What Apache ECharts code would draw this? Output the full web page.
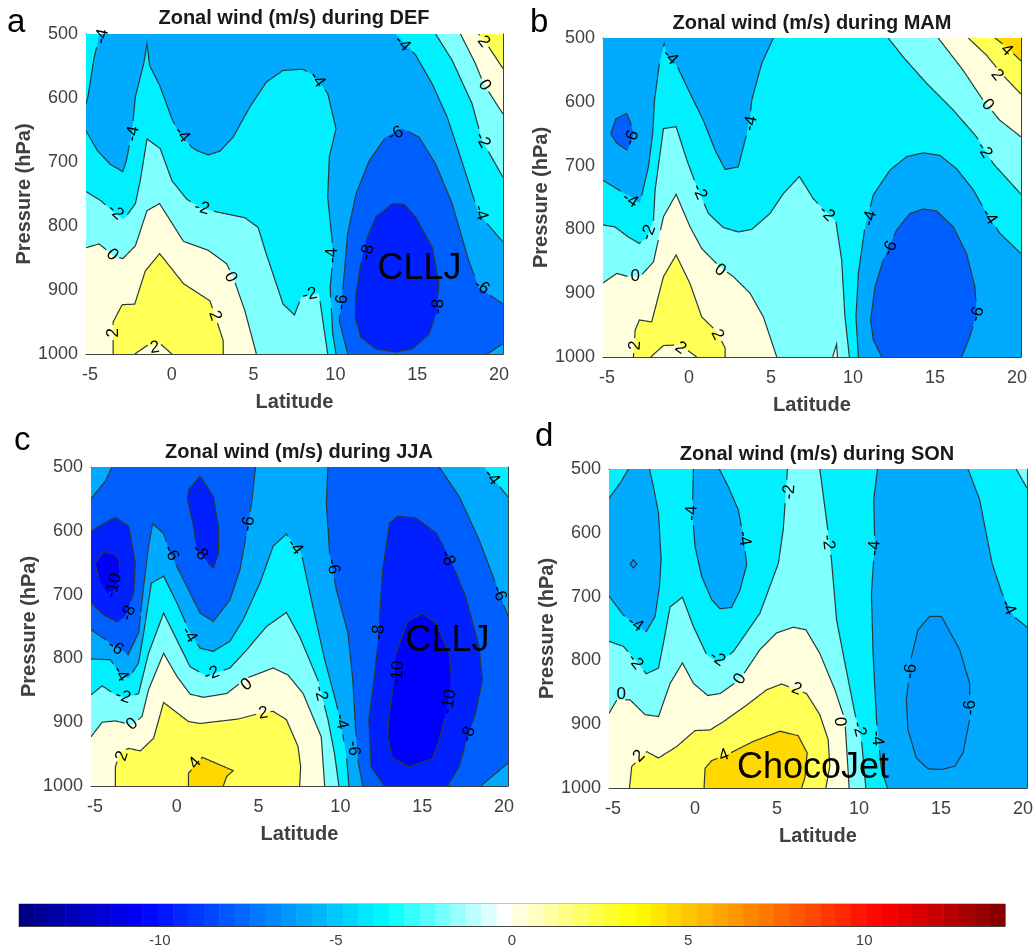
<!DOCTYPE html>
<html>
<head>
<meta charset="utf-8">
<style>
html, body { margin: 0; padding: 0; background: #fff; }
#main { width: 1036px; height: 951px; }
</style>
</head>
<body>
<div id="main"></div>
<script src="https://cdn.jsdelivr.net/npm/echarts@6/dist/echarts.min.js"></script>
<script>
var latTicks = [-5, 0, 5, 10, 15, 20];
var pressureTicks = [500, 600, 700, 800, 900, 1000];
var colorbarTicks = [-10, -5, 0, 5, 10];
var colorbarStops = [[-14, '#00007f'], [-10.5, '#0000ff'], [-3.5, '#00ffff'], [-0.2, '#ffffff'], [0.2, '#ffffe0'], [3.5, '#ffff00'], [10.5, '#ff0000'], [14, '#7f0000']];
var frameCorners = [[-5.25, 500], [20.25, 500], [20.25, 1000], [-5.25, 1000]];

// contour regions, painted in order: [lower value of the band, [[latitude, pressure], ...]]
var defContours = [
    [-4, frameCorners],
    [-6, [[-4.42,500],[-4.77,539],[-5.13,598],[-5.25,609],[-5.25,651],[-4.56,682],[-3.75,704],[-3,715],[-2.78,698],[-2.58,671],[-2.43,651],[-2.23,598],[-1.72,546],[-1.52,515],[-1.36,549],[-0.75,580],[0,632],[0.3,648],[1.22,677],[1.62,683],[2.23,689],[2.94,683],[3.75,661],[4.77,614],[5.78,575],[6.8,557],[8,555],[8.72,565],[9.53,593],[10.04,648],[9.63,692],[9.53,755],[9.8,823],[9.8,864],[9.68,896],[9.84,969],[10.04,1000],[20.25,1000],[20.25,825],[18.76,781],[17.85,708],[16.84,630],[15.92,578],[14.91,533],[13.69,500]]],
    [-8, [[10.75,1000],[10.24,948],[10.45,901],[10.75,812],[11.26,750],[12.07,698],[13.08,661],[14.1,648],[15.11,661],[16.13,703],[17.14,765],[18.15,854],[18.76,896],[20.25,922],[20.25,984],[19.27,1000]]],
    [-10, [[13.49,765],[12.47,786],[11.87,823],[11.56,859],[11.26,906],[11.22,943],[11.56,974],[12.47,992],[13.69,997],[14.71,992],[15.72,969],[16.23,932],[16.33,890],[15.92,833],[14.91,786],[14.2,766]]],
    [-2, [[-5.25,746],[-4.36,760],[-3.45,781],[-2.94,790],[-2.23,765],[-1.93,729],[-1.52,664],[-0.71,679],[0,729],[0.91,758],[1.72,771],[2.74,778],[4.46,787],[5.27,802],[5.78,844],[6.8,922],[7.5,939],[7.91,911],[8.99,905],[9.53,1000],[-5.25,1000]]],
    [-2, [[16.13,500],[17.14,541],[18.36,609],[18.97,666],[20.25,724],[20.25,500]]],
    [0, [[-5.25,834],[-4.46,828],[-3.96,838],[-3.65,846],[-3,851],[-2.23,831],[-1.52,776],[-0.75,765],[0.71,824],[2.23,838],[3.35,859],[3.75,880],[4.46,932],[5.17,1000],[-5.25,1000]]],
    [0, [[17.65,500],[18.56,546],[19.07,578],[20.25,625],[20.25,500]]],
    [2, [[-3.59,1000],[-3.59,950],[-3.04,923],[-2.27,922],[-1.62,870],[-0.75,843],[0.71,890],[2.33,917],[2.64,940],[3.14,979],[3.14,1000]]],
    [0, [[-2.27,1000],[-1.52,987],[-0.71,984],[0,1000]]],
    [2, [[18.76,500],[19.37,520],[20.25,554],[20.25,500]]]
];
var mamContours = [
    [-4, frameCorners],
    [-6, [[5.14,500],[4.43,540],[3.82,598],[3.72,624],[3.52,650],[3,702],[2.2,706],[1.59,676],[0.87,629],[0.16,592],[-0.75,543],[-1.36,527],[-1.52,509],[-1.81,540],[-2.11,598],[-2.22,650],[-2.48,702],[-3,759],[-3.6,749],[-4.31,738],[-5.25,723],[-5.25,500]]],
    [-6, [[10.33,1000],[10.18,937],[10.33,869],[10.73,796],[11.24,746],[12.26,707],[13.27,686],[14.29,680],[15.3,684],[16.32,705],[17.34,738],[18.15,775],[18.96,806],[20.25,838],[20.25,1000]]],
    [-8, [[11.75,1000],[11.24,973],[11.08,942],[11.34,890],[11.85,848],[12.66,801],[13.48,775],[14.29,768],[15.1,771],[16.12,796],[16.93,838],[17.44,890],[17.54,932],[17.13,968],[16.63,1000]]],
    [-8, [[-3.8,618],[-4.47,627],[-4.78,650],[-4.41,665],[-3.76,676],[-3.39,650],[-3.56,634]]],
    [-2, [[-5.25,793],[-4.53,796],[-3.7,812],[-3.03,822],[-2.58,813],[-2.17,785],[-2.07,738],[-1.56,642],[-0.79,639],[-0.14,691],[0.47,733],[1.18,775],[2.09,797],[3,804],[3.82,800],[4.94,775],[5.75,744],[6.73,717],[7.58,752],[8.96,788],[9.31,848],[9.51,937],[9.78,1000],[-5.25,1000]]],
    [-2, [[12.15,500],[13.07,530],[14.49,571],[16.12,613],[17.54,655],[18.56,697],[20.25,745],[20.25,500]]],
    [0, [[-5.25,884],[-4.41,869],[-3.7,874],[-2.99,874],[-2.17,851],[-1.56,780],[-0.79,745],[0.06,796],[0.77,830],[1.89,859],[2.7,874],[3.72,900],[4.53,937],[5.35,1000],[-5.25,1000]]],
    [0, [[15.2,500],[16.73,551],[17.95,598],[18.96,629],[20.25,655],[20.25,500]]],
    [0, [[8.76,1000],[9,980],[9.05,1000]]],
    [2, [[-3.39,1000],[-3.29,958],[-3.03,942],[-2.28,945],[-1.56,874],[-0.79,840],[0.06,885],[0.77,937],[1.69,960],[2.2,986],[2.2,1000]]],
    [0, [[-2.34,1000],[-1.56,982],[-0.55,981],[0.47,1000]]],
    [2, [[17.03,500],[18.15,527],[19.06,556],[20.25,588],[20.25,500]]],
    [4, [[18.66,500],[19.37,514],[20.25,536],[20.25,500]]]
];
var jjaContours = [
    [-6, frameCorners],
    [-8, [[-3.96,500],[-4.37,522],[-5.25,550],[-5.25,755],[-4.06,776],[-2.98,794],[-2.34,760],[-2.03,687],[-1.73,624],[-1.48,589],[-0.81,604],[-0.41,635],[0.61,687],[1.42,729],[2.23,742],[3.25,708],[3.86,661],[4.26,604],[4.57,556],[4.81,500]]],
    [-8, [[9.24,500],[9.14,556],[9.34,635],[9.75,692],[10.46,760],[10.76,834],[10.92,907],[11.07,959],[11.37,1000],[18.58,1000],[20.25,964],[20.25,734],[19.49,682],[18.48,614],[17.26,546],[16.04,500]]],
    [-10, [[12.69,1000],[11.88,970],[11.74,896],[12.08,828],[12.28,781],[12.59,661],[13,588],[13.5,577],[14.62,580],[15.84,603],[16.65,640],[17.66,703],[18.48,781],[18.68,834],[18.27,886],[17.66,933],[17.26,970],[16.55,1000]]],
    [-10, [[-3.76,579],[-4.77,593],[-5.25,601],[-5.25,713],[-4.47,732],[-3.65,743],[-3.15,734],[-2.64,698],[-2.54,651],[-2.94,593]]],
    [-10, [[1.42,514],[0.71,536],[0.65,551],[1.02,593],[1.22,630],[2.23,659],[2.54,635],[2.54,593],[2.23,546]]],
    [-12, [[-4.47,633],[-5.02,651],[-4.71,677],[-4.26,698],[-3.76,692],[-3.55,671],[-3.49,651],[-3.76,637]]],
    [-12, [[15.03,730],[14.11,742],[13.4,792],[13.3,834],[12.99,886],[12.89,923],[13.2,957],[14.21,970],[15.63,957],[16.04,928],[16.45,886],[16.8,834],[16.65,792],[15.84,745]]],
    [-4, [[-5.25,801],[-4.06,802],[-3.45,826],[-2.94,831],[-2.34,807],[-2.03,760],[-1.56,682],[-0.81,671],[0,713],[0.81,760],[1.42,784],[2.23,789],[3.25,773],[4.06,739],[5.08,682],[5.89,624],[6.7,605],[7.61,635],[8.32,719],[9.04,802],[9.75,870],[10.05,907],[10.36,949],[10.52,1000],[-5.25,1000]]],
    [-4, [[18.78,500],[20.25,547],[20.25,500]]],
    [-2, [[-5.25,857],[-4.57,843],[-3.76,857],[-3.15,862],[-2.34,855],[-1.73,792],[-0.81,729],[-0.1,766],[0.81,813],[1.83,828],[3.25,815],[4.26,787],[5.48,750],[6.7,728],[7.51,766],[8.63,834],[9.24,896],[9.64,949],[9.91,1000],[-5.25,1000]]],
    [0, [[-5.25,923],[-4.57,900],[-3.76,898],[-2.74,904],[-2.13,891],[-1.73,849],[-0.81,792],[0,828],[0.81,856],[1.62,861],[3.05,855],[4.26,831],[5.89,815],[6.8,826],[7.72,855],[8.83,923],[9.04,1000],[-5.25,1000]]],
    [2, [[-3.76,1000],[-3.76,970],[-3.45,946],[-2.94,941],[-2.23,945],[-1.42,925],[-0.81,869],[0.71,899],[1.42,902],[3.76,895],[5.08,886],[5.89,883],[6.7,896],[7.41,938],[7.57,970],[7.51,1000]]],
    [4, [[0.71,1000],[0.71,980],[1.56,955],[3.45,976],[3.05,985],[2.84,1000]]]
];
var sonContours = [
    [-4, frameCorners],
    [-6, [[-4.06,500],[-4.57,522],[-5.25,546],[-5.25,699],[-4.37,729],[-2.98,755],[-2.44,731],[-2.17,684],[-2.07,642],[-2.23,569],[-2.54,528],[-2.78,500]]],
    [-6, [[-0.1,500],[-0.16,569],[0,622],[0.41,669],[1.02,705],[1.52,719],[2.23,717],[2.74,690],[3.15,650],[2.98,611],[2.64,564],[2.03,528],[1.48,500]]],
    [-6, [[11.13,500],[10.9,548],[10.96,616],[10.76,695],[10.86,789],[11.07,893],[11.37,971],[11.74,1000],[20.25,1000],[20.25,748],[19.44,731],[18.73,695],[18.12,648],[17.36,548],[16.65,500]]],
    [-8, [[14.31,731],[13.6,752],[13.2,794],[12.89,862],[12.99,909],[13.5,953],[14.21,970],[15.03,971],[15.84,966],[16.35,945],[16.75,893],[16.75,836],[16.14,783],[15.03,731]]],
    [-8, [[-3.96,649],[-3.76,642],[-3.55,649],[-3.76,655]]],
    [-2, [[-5.25,770],[-4.37,778],[-3.65,799],[-2.98,821],[-2.23,812],[-1.93,773],[-1.52,716],[-0.77,701],[-0.1,747],[0.71,791],[1.42,804],[2.34,786],[3.96,726],[5.08,648],[5.38,595],[5.52,543],[5.64,500],[7.61,500],[8.02,580],[8.32,642],[8.63,736],[9.14,804],[9.75,883],[10.15,924],[10.42,1000],[-5.25,1000]]],
    [-2, [[19.59,500],[20.25,530],[20.25,500]]],
    [0, [[-5.25,883],[-4.77,862],[-3.96,862],[-3.05,885],[-2.23,888],[-1.52,836],[-0.77,804],[-0.1,836],[0.77,855],[1.52,852],[2.74,830],[3.96,783],[4.97,757],[5.99,748],[6.76,752],[7.61,789],[8.53,846],[9.14,893],[9.4,1000],[-5.25,1000]]],
    [2, [[-4,1000],[-3.86,966],[-2.95,943],[-2.23,953],[-1.12,935],[0,910],[0.91,909],[1.73,896],[3.15,870],[4.37,846],[5.28,837],[6.8,852],[7.61,885],[8.12,924],[8.22,966],[7.98,1000]]],
    [4, [[0.55,1000],[0.61,969],[1.02,957],[1.93,948],[3.55,927],[5.18,911],[6.29,918],[6.84,945],[6.7,984],[6.5,1000]]]
];

// contour labels: [latitude, pressure, level]
var defLabels = [[-4.26,504,-4],[-2.37,656,-4],[0.61,657,-4],[8.88,571,-4],[14.1,515,-4],[13.69,656,-6],[9.84,846,-4],[10.4,919,-6],[11.97,841,-8],[16.29,926,-8],[18.93,895,-6],[18.87,779,-4],[19,666,-2],[19.12,580,0],[19.06,512,2],[-3.45,778,-2],[-3.65,845,0],[1.83,772,-2],[3.59,880,0],[8.42,907,-2],[2.64,940,2],[-3.55,967,2],[-1.05,990,2]];
var mamLabels = [[-1.16,530,-4],[-3.5,657,-6],[3.76,634,-4],[-3.6,754,-4],[-2.48,805,-2],[0.63,741,-2],[8.39,775,-2],[11.04,783,-4],[12.26,830,-6],[17.58,933,-6],[18.31,780,-4],[18,676,-2],[18.21,605,0],[18.8,558,2],[19.37,519,4],[1.89,864,0],[-3.29,873,0],[-3.29,982,2],[1.73,965,2],[-0.51,986,2]];
var jjaLabels = [[19.25,516,-4],[4.37,589,-6],[1.42,634,-8],[-0.35,635,-6],[7.21,625,-4],[9.54,656,-6],[-3.86,686,-10],[-2.94,729,-8],[16.55,643,-8],[19.7,698,-6],[12.35,759,-8],[-3.76,783,-6],[-3.45,824,-4],[0.75,763,-4],[2.13,824,-2],[-3.3,860,-2],[4.26,841,0],[-2.74,903,0],[5.28,886,2],[-3.35,953,2],[1.12,964,4],[8.79,855,-2],[10.05,899,-4],[10.8,941,-6],[13.5,823,-10],[16.65,868,-10],[17.83,919,-8]];
var sonLabels = [[5.75,536,-2],[-0.2,569,-4],[2.98,609,-4],[8.12,615,-2],[10.96,624,-4],[-3.65,743,-4],[19.09,717,-4],[-3.65,802,-2],[1.36,797,-2],[2.74,829,0],[-4.5,853,0],[6.19,845,2],[8.83,896,0],[10,908,-2],[11.1,922,-4],[-3.41,950,2],[1.77,949,4],[13.14,817,-6],[16.79,874,-6]];

var bandColors = {'-12': '#0000ff', '-10': '#0020ff', '-8': '#0060ff', '-6': '#00aaff', '-4': '#00f0ff', '-2': '#80ffff', '0': '#ffffdd', '2': '#ffff55', '4': '#ffd800'};
var font = '"Liberation Sans", Arial, sans-serif';
var textColor = '#404040';

var panels = [
    {letter: 'a', season: 'DEF', contours: defContours, labels: defLabels, note: [15.15, 868, 'CLLJ'], box: [86, 34, 417, 320], titleAt: [294, 8], letterAt: [7, 6]},
    {letter: 'b', season: 'MAM', contours: mamContours, labels: mamLabels, note: null, box: [603, 38, 418, 319], titleAt: [812, 13], letterAt: [530, 6]},
    {letter: 'c', season: 'JJA', contours: jjaContours, labels: jjaLabels, note: [16.55, 773, 'CLLJ'], box: [91, 467, 417, 319], titleAt: [299, 442], letterAt: [14, 424]},
    {letter: 'd', season: 'SON', contours: sonContours, labels: sonLabels, note: [7.2, 969, 'ChocoJet'], box: [609, 469, 418, 319], titleAt: [817, 444], letterAt: [535, 420], lowest: {'-8': '#0099ff'}}
];

function onFrame(a, b) {
    return (a[0] === b[0] && (a[0] === -5.25 || a[0] === 20.25)) || (a[1] === b[1] && (a[1] === 500 || a[1] === 1000));
}

function toPixels(api, pts) {
    return pts.map(function(p) { return api.coord(p); });
}

// cut the contour line where a label sits on it
function strokePieces(api, pts, gaps) {
    var pieces = [], cur = [];
    for (var i = 0; i < pts.length; i++) {
        var a = pts[i], b = pts[(i + 1) % pts.length];
        if (onFrame(a, b)) {
            if (cur.length > 1) pieces.push(cur);
            cur = [];
            continue;
        }
        var pa = api.coord(a), pb = api.coord(b);
        var n = Math.ceil(Math.hypot(pb[0] - pa[0], pb[1] - pa[1]));
        for (var k = 0; k <= n; k++) {
            var x = pa[0] + (pb[0] - pa[0]) * k / n, y = pa[1] + (pb[1] - pa[1]) * k / n;
            var hit = gaps.some(function(g) { return Math.hypot(g[0] - x, g[1] - y) < g[2]; });
            if (hit) {
                if (cur.length > 1) pieces.push(cur);
                cur = [];
            } else {
                cur.push([x, y]);
            }
        }
    }
    if (cur.length > 1) pieces.push(cur);
    return pieces;
}

// direction of the contour nearest to a label, so the text follows the line
function labelAngle(api, contours, pos) {
    var best = Infinity, angle = 0;
    contours.forEach(function(c) {
        var pts = c[1];
        for (var i = 0; i < pts.length; i++) {
            var a = pts[i], b = pts[(i + 1) % pts.length];
            if (onFrame(a, b)) continue;
            var pa = api.coord(a), pb = api.coord(b);
            var dx = pb[0] - pa[0], dy = pb[1] - pa[1];
            var t = Math.max(0, Math.min(1, ((pos[0] - pa[0]) * dx + (pos[1] - pa[1]) * dy) / (dx * dx + dy * dy)));
            var d = Math.hypot(pa[0] + dx * t - pos[0], pa[1] + dy * t - pos[1]);
            if (d < best) {
                best = d;
                angle = Math.atan2(-dy, dx);
            }
        }
    });
    if (angle > Math.PI / 2) angle -= Math.PI;
    if (angle <= -Math.PI / 2) angle += Math.PI;
    return angle;
}

var grids = [], xAxes = [], yAxes = [], series = [], titles = [];

panels.forEach(function(panel, i) {
    var axisLine = {show: true, onZero: false, lineStyle: {color: textColor, width: 1}};
    var xIndex = xAxes.length, yIndex = yAxes.length;
    grids.push({left: panel.box[0], top: panel.box[1], width: panel.box[2], height: panel.box[3]});
    xAxes.push({
        type: 'value', gridIndex: i, position: 'bottom', min: -5.25, max: 20.25,
        name: 'Latitude', nameLocation: 'middle', nameGap: 38,
        nameTextStyle: {fontFamily: font, fontSize: 20, fontWeight: 'bold', color: textColor},
        axisLine: axisLine,
        axisTick: {inside: true, length: 4, customValues: latTicks, lineStyle: {color: textColor}},
        axisLabel: {customValues: latTicks, fontFamily: font, fontSize: 18, color: textColor, margin: 12},
        splitLine: {show: false}
    });
    yAxes.push({
        type: 'value', gridIndex: i, position: 'left', inverse: true, min: 500, max: 1000, interval: 100,
        name: 'Pressure (hPa)', nameLocation: 'middle', nameGap: 50,
        nameTextStyle: {fontFamily: font, fontSize: 20, fontWeight: 'bold', color: textColor},
        axisLine: axisLine,
        axisTick: {inside: true, length: 4, customValues: pressureTicks, lineStyle: {color: textColor}},
        axisLabel: {customValues: pressureTicks, formatter: function(v) { return String(v); }, fontFamily: font, fontSize: 18, color: textColor, margin: 8},
        splitLine: {show: false}
    });
    titles.push({
        text: 'Zonal wind (m/s) during ' + panel.season, left: panel.titleAt[0], top: panel.titleAt[1], textAlign: 'center', padding: 0,
        textStyle: {fontFamily: font, fontSize: 20, fontWeight: 'bold', color: '#1a1a1a'}
    });
    titles.push({
        text: panel.letter, left: panel.letterAt[0], top: panel.letterAt[1], padding: 0,
        textStyle: {fontFamily: font, fontSize: 33, fontWeight: 'normal', color: '#000'}
    });

    series.push({
        type: 'custom', coordinateSystem: 'cartesian2d', xAxisIndex: xIndex, yAxisIndex: yIndex, silent: true, clip: true,
        data: panel.contours.map(function(c) { return c[1][0]; }),
        renderItem: function(params, api) {
            var c = panel.contours[params.dataIndex];
            var color = (panel.lowest && panel.lowest[c[0]]) || bandColors[c[0]];
            var gaps = panel.labels.map(function(l) {
                var p = api.coord(l);
                return [p[0], p[1], String(l[2]).length * 5 + 2];
            });
            var children = [{type: 'polygon', shape: {points: toPixels(api, c[1])}, style: {fill: color}}];
            strokePieces(api, c[1], gaps).forEach(function(line) {
                children.push({type: 'polyline', shape: {points: line}, style: {fill: null, stroke: '#2a3a3a', lineWidth: 1.2}});
            });
            return {type: 'group', children: children};
        }
    });
    series.push({
        type: 'custom', coordinateSystem: 'cartesian2d', xAxisIndex: xIndex, yAxisIndex: yIndex, silent: true, clip: false, z: 3,
        data: panel.labels.map(function(l) { return l; }),
        renderItem: function(params, api) {
            var l = panel.labels[params.dataIndex];
            var p = api.coord(l);
            return {
                type: 'text', x: p[0], y: p[1], rotation: labelAngle(api, panel.contours, p),
                style: {text: String(l[2]), fill: '#000', font: '17px ' + font, align: 'center', verticalAlign: 'middle'}
            };
        }
    });
    if (panel.note) {
        series.push({
            type: 'custom', coordinateSystem: 'cartesian2d', xAxisIndex: xIndex, yAxisIndex: yIndex, silent: true, clip: false, z: 4,
            data: [panel.note],
            renderItem: function(params, api) {
                var p = api.coord(panel.note);
                return {type: 'text', x: p[0], y: p[1], style: {text: panel.note[2], fill: '#000', font: '36px ' + font, align: 'center', verticalAlign: 'middle'}};
            }
        });
    }
    // box ticks along the top and the right side
    xAxes.push({type: 'value', gridIndex: i, position: 'top', min: -5.25, max: 20.25, axisLine: axisLine, axisTick: {inside: true, length: 4, customValues: latTicks, lineStyle: {color: textColor}}, axisLabel: {show: false}, splitLine: {show: false}});
    yAxes.push({type: 'value', gridIndex: i, position: 'right', inverse: true, min: 500, max: 1000, axisLine: axisLine, axisTick: {inside: true, length: 4, customValues: pressureTicks, lineStyle: {color: textColor}}, axisLabel: {show: false}, splitLine: {show: false}});
});

// colour bar: 64 steps from -14 to 14
function rampColor(v) {
    for (var i = 0; i < colorbarStops.length - 1; i++) {
        var a = colorbarStops[i], b = colorbarStops[i + 1];
        if (v <= b[0]) {
            var t = Math.max(0, (v - a[0]) / (b[0] - a[0]));
            var rgb = [1, 3, 5].map(function(k) {
                var ca = parseInt(a[1].substr(k, 2), 16), cb = parseInt(b[1].substr(k, 2), 16);
                return Math.round(ca + (cb - ca) * t);
            });
            return 'rgb(' + rgb.join(',') + ')';
        }
    }
}
var colorbarSteps = [];
for (var s = 0; s < 64; s++) colorbarSteps.push([-14 + s * 0.4375, -14 + (s + 1) * 0.4375]);

grids.push({left: 19, top: 904, width: 986, height: 22, show: true, borderColor: '#8a8a8a', borderWidth: 1, backgroundColor: 'transparent'});
xAxes.push({
    type: 'value', gridIndex: 4, min: -14, max: 14, position: 'bottom',
    axisLine: {show: true, onZero: false, lineStyle: {color: textColor}},
    axisTick: {inside: true, length: 8, customValues: colorbarTicks, lineStyle: {color: textColor}},
    axisLabel: {customValues: colorbarTicks, fontFamily: font, fontSize: 15, color: textColor, margin: 7},
    splitLine: {show: false}
});
yAxes.push({type: 'value', gridIndex: 4, min: 0, max: 1, show: false, splitLine: {show: false}});
series.push({
    type: 'custom', coordinateSystem: 'cartesian2d', xAxisIndex: xAxes.length - 1, yAxisIndex: yAxes.length - 1, silent: true,
    data: colorbarSteps,
    renderItem: function(params, api) {
        var st = colorbarSteps[params.dataIndex];
        var p0 = api.coord([st[0], 1]), p1 = api.coord([st[1], 0]);
        return {type: 'rect', shape: {x: p0[0], y: p0[1], width: p1[0] - p0[0] + 0.5, height: p1[1] - p0[1]}, style: {fill: rampColor((st[0] + st[1]) / 2)}};
    }
});

var myChart = echarts.init(document.getElementById('main'), null, {renderer: 'canvas'});
myChart.setOption({
    animation: false,
    backgroundColor: '#fff',
    title: titles,
    grid: grids,
    xAxis: xAxes,
    yAxis: yAxes,
    series: series
});
</script>
</body>
</html>
